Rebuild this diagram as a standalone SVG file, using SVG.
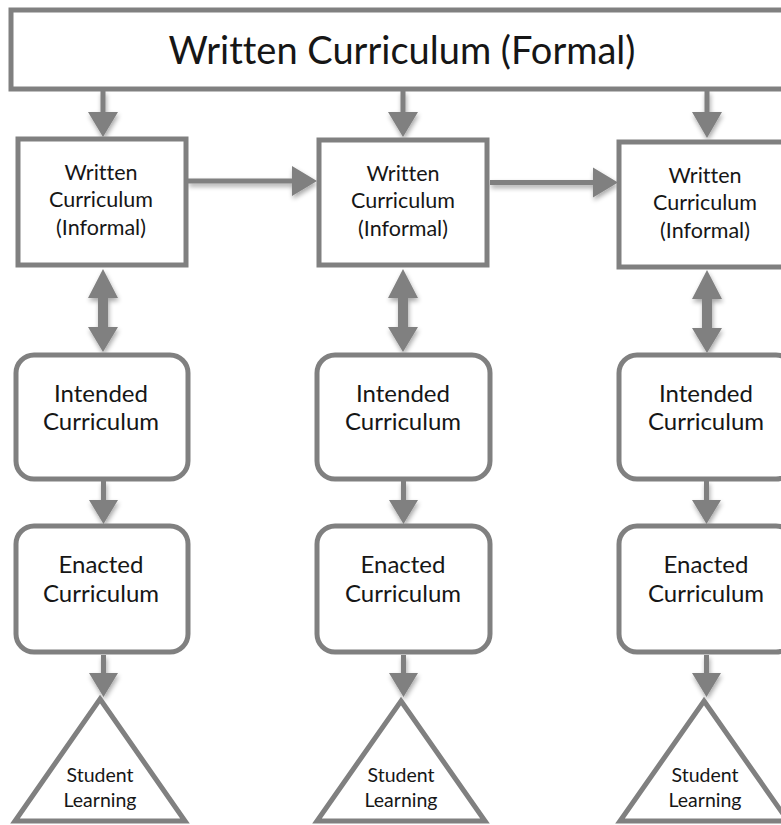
<svg xmlns="http://www.w3.org/2000/svg" width="781" height="825" viewBox="0 0 781 825">
  <style>
    .box { fill: #ffffff; stroke: #808080; stroke-width: 5; }
    .lbl { font-family: Lato, "Liberation Sans", sans-serif; fill: #161616; text-anchor: middle; font-variant-ligatures: none; }
    .t1 { font-size: 38px; }
    .t2 { font-size: 21.5px; }
    .t3 { font-size: 24px; }
    .t4 { font-size: 19.5px; }
    .arr { fill: #808080; }
  </style>
  <defs>
    <filter id="shadow" x="-50%" y="-50%" width="200%" height="200%">
      <feGaussianBlur in="SourceAlpha" stdDeviation="2.5"/>
      <feOffset dx="1" dy="3" result="b"/>
      <feComponentTransfer><feFuncA type="linear" slope="0.35"/></feComponentTransfer>
      <feMerge><feMergeNode/><feMergeNode in="SourceGraphic"/></feMerge>
    </filter>
  </defs>

  <rect width="781" height="825" fill="#ffffff"/>

  <!-- connectors -->
  <g id="connectors" class="arr" filter="url(#shadow)">
    <!-- formal to informal -->
    <path d="M100.5,91 h5 v21 h12.5 l-15,25 l-15,-25 h12.5 z"/>
    <path d="M400.5,91 h5 v21 h12.5 l-15,25 l-15,-25 h12.5 z"/>
    <path d="M704.5,91 h5 v21 h12.5 l-15,26 l-15,-26 h12.5 z"/>
    <!-- informal to informal -->
    <path d="M188,178.5 v5 h104 v12.5 l25,-15 l-25,-15 v12.5 z"/>
    <path d="M490,180 v5 h103 v12.5 l25,-15 l-25,-15 v12.5 z"/>
    <!-- informal to intended (two-way) -->
    <path d="M103,269 l15,29 h-10 v29 h10 l-15,25 l-15,-25 h10 v-29 h-10 z"/>
    <path d="M403,269 l15,29 h-10 v29 h10 l-15,25 l-15,-25 h10 v-29 h-10 z"/>
    <path d="M707,270 l15,29 h-10 v29 h10 l-15,25 l-15,-25 h10 v-29 h-10 z"/>
    <!-- intended to enacted -->
    <path d="M101,481 h5 v19 h12 l-14.5,24 l-14.5,-24 h12 z"/>
    <path d="M401,481 h5 v19 h12 l-14.5,24 l-14.5,-24 h12 z"/>
    <path d="M704,481 h5 v19 h12 l-14.5,24 l-14.5,-24 h12 z"/>
    <!-- enacted to learning -->
    <path d="M101,655 h5 v18 h12 l-14.5,24 l-14.5,-24 h12 z"/>
    <path d="M401,655 h5 v18 h12 l-14.5,24 l-14.5,-24 h12 z"/>
    <path d="M704,655 h5 v18 h12 l-14.5,24 l-14.5,-24 h12 z"/>
  </g>

  <!-- formal curriculum -->
  <g id="formal">
    <rect class="box" x="11" y="10" width="800" height="79"/>
    <text class="lbl t1" x="402" y="64">Written Curriculum (Formal)</text>
  </g>

  <!-- column 1 -->
  <g id="informal-1">
    <rect class="box" x="18" y="139" width="168" height="126"/>
    <text class="lbl t2" x="101" y="180">Written</text>
    <text class="lbl t2" x="101" y="207">Curriculum</text>
    <text class="lbl t2" x="101" y="235">(Informal)</text>
  </g>
  <g id="intended-1">
    <rect class="box" x="16" y="355" width="172" height="124" rx="18"/>
    <text class="lbl t3" x="101" y="402">Intended</text>
    <text class="lbl t3" x="101" y="430">Curriculum</text>
  </g>
  <g id="enacted-1">
    <rect class="box" x="16" y="526" width="172" height="126" rx="18"/>
    <text class="lbl t3" x="101" y="573">Enacted</text>
    <text class="lbl t3" x="101" y="602">Curriculum</text>
  </g>
  <g id="learning-1">
    <path class="box" d="M100,699 L185,821 L15,821 Z"/>
    <text class="lbl t4" x="100" y="782">Student</text>
    <text class="lbl t4" x="100" y="807">Learning</text>
  </g>

  <!-- column 2 -->
  <g id="informal-2">
    <rect class="box" x="319" y="140" width="168" height="125"/>
    <text class="lbl t2" x="403" y="181">Written</text>
    <text class="lbl t2" x="403" y="208">Curriculum</text>
    <text class="lbl t2" x="403" y="236">(Informal)</text>
  </g>
  <g id="intended-2">
    <rect class="box" x="317" y="355" width="173" height="124" rx="18"/>
    <text class="lbl t3" x="403" y="402">Intended</text>
    <text class="lbl t3" x="403" y="430">Curriculum</text>
  </g>
  <g id="enacted-2">
    <rect class="box" x="317" y="526" width="173" height="126" rx="18"/>
    <text class="lbl t3" x="403" y="573">Enacted</text>
    <text class="lbl t3" x="403" y="602">Curriculum</text>
  </g>
  <g id="learning-2">
    <path class="box" d="M401,701 L485,821 L317,821 Z"/>
    <text class="lbl t4" x="401" y="782">Student</text>
    <text class="lbl t4" x="401" y="807">Learning</text>
  </g>

  <!-- column 3 -->
  <g id="informal-3">
    <rect class="box" x="619" y="142" width="172" height="125"/>
    <text class="lbl t2" x="705" y="183">Written</text>
    <text class="lbl t2" x="705" y="210">Curriculum</text>
    <text class="lbl t2" x="705" y="238">(Informal)</text>
  </g>
  <g id="intended-3">
    <rect class="box" x="619" y="355" width="175" height="124" rx="18"/>
    <text class="lbl t3" x="706" y="402">Intended</text>
    <text class="lbl t3" x="706" y="430">Curriculum</text>
  </g>
  <g id="enacted-3">
    <rect class="box" x="619" y="526" width="175" height="126" rx="18"/>
    <text class="lbl t3" x="706" y="573">Enacted</text>
    <text class="lbl t3" x="706" y="602">Curriculum</text>
  </g>
  <g id="learning-3">
    <path class="box" d="M704,701 L788,821 L620,821 Z"/>
    <text class="lbl t4" x="705" y="782">Student</text>
    <text class="lbl t4" x="705" y="807">Learning</text>
  </g>
</svg>
